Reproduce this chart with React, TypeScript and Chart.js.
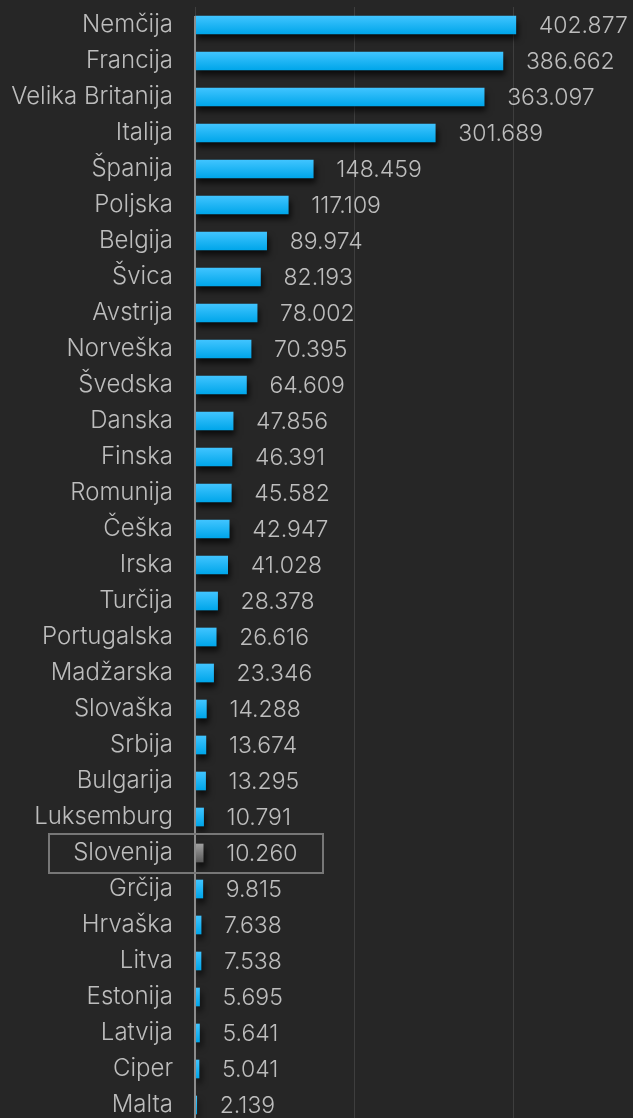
import React, { useEffect, useRef } from "react";
import { Chart, registerables } from "chart.js";

Chart.register(...registerables);

const countries = [
  "Nemčija", "Francija", "Velika Britanija", "Italija", "Španija", "Poljska",
  "Belgija", "Švica", "Avstrija", "Norveška", "Švedska", "Danska", "Finska",
  "Romunija", "Češka", "Irska", "Turčija", "Portugalska", "Madžarska",
  "Slovaška", "Srbija", "Bulgarija", "Luksemburg", "Slovenija", "Grčija",
  "Hrvaška", "Litva", "Estonija", "Latvija", "Ciper", "Malta",
];

const values = [
  402877, 386662, 363097, 301689, 148459, 117109, 89974, 82193, 78002, 70395,
  64609, 47856, 46391, 45582, 42947, 41028, 28378, 26616, 23346, 14288, 13674,
  13295, 10791, 10260, 9815, 7638, 7538, 5695, 5641, 5041, 2139,
];

const gridValues = [0, 200000, 400000];

const highlight = "Slovenija";
const xMax = 550000;

const FONT = "Inter, 'Noto Sans', sans-serif";
const TEXT = "#bdbdbd";

function fmt(v: number): string {
  const th = Math.floor(v / 1000);
  const rest = String(v % 1000).padStart(3, "0");
  return th > 0 ? `${th}.${rest}` : String(v);
}

export default function App() {
  const ref = useRef<HTMLCanvasElement>(null);

  useEffect(() => {
    if (!ref.current) return;

    const shadowPlugin = {
      id: "shadow",
      beforeDatasetsDraw(chart: any) {
        const c = chart.ctx;
        c.save();
        c.shadowColor = "rgba(0,0,0,0.7)";
        c.shadowBlur = 6;
        c.shadowOffsetX = 2;
        c.shadowOffsetY = 5;
      },
      afterDatasetsDraw(chart: any) {
        chart.ctx.restore();
      },
    };

    const labelPlugin = {
      id: "valueLabels",
      afterDraw(chart: any) {
        const c = chart.ctx;
        const meta = chart.getDatasetMeta(0);
        const area = chart.chartArea;
        c.save();
        // zero axis line
        c.strokeStyle = "#8c8c8c";
        c.lineWidth = 2;
        c.beginPath();
        c.moveTo(area.left, area.top + 9);
        c.lineTo(area.left, area.bottom);
        c.stroke();

        c.font = `300 23px ${FONT}`;
        c.fillStyle = TEXT;
        c.textAlign = "left";
        c.textBaseline = "middle";
        meta.data.forEach((bar: any, i: number) => {
          c.fillText(fmt(values[i]), bar.x + 23, bar.y + 1);
        });

        const hi = countries.indexOf(highlight);
        if (hi >= 0) {
          const y = chart.scales.y.getPixelForValue(hi);
          c.strokeStyle = "#777";
          c.lineWidth = 2;
          c.strokeRect(area.left - 146, y - 19, 274, 39);
        }
        c.restore();
      },
    };

    const chart = new Chart(ref.current, {
      type: "bar",
      data: {
        labels: countries,
        datasets: [
          {
            data: values,
            barThickness: 18,
            borderWidth: 0,
            backgroundColor: (ctx: any) => {
              const ch = ctx.chart;
              const ys = ch.scales && ch.scales.y;
              const isHi = countries[ctx.dataIndex] === highlight;
              if (!ys || !ch.chartArea) return isHi ? "#777" : "#14b4f4";
              const yc = ys.getPixelForValue(ctx.dataIndex);
              const g = ch.ctx.createLinearGradient(0, yc - 9, 0, yc + 9);
              if (isHi) {
                g.addColorStop(0, "#a0a0a0");
                g.addColorStop(1, "#5a5a5a");
              } else {
                g.addColorStop(0, "#40c4ff");
                g.addColorStop(1, "#00a6ea");
              }
              return g;
            },
          },
        ],
      },
      options: {
        indexAxis: "y",
        animation: false,
        responsive: false,
        maintainAspectRatio: false,
        layout: { autoPadding: false, padding: { top: 7, right: 0, bottom: 0, left: 0 } },
        plugins: {
          legend: { display: false },
          title: { display: false },
          tooltip: { enabled: false },
        },
        scales: {
          x: {
            min: 0,
            max: xMax,
            ticks: { display: false },
            grid: { color: "#3e3e3e", lineWidth: 1, drawTicks: false },
            border: { display: false },
            afterBuildTicks: (s: any) => {
              s.ticks = gridValues.map((v) => ({ value: v }));
            },
            afterFit: (s: any) => {
              s.height = 0;
              s.paddingLeft = 0;
              s.paddingRight = 0;
            },
          },
          y: {
            ticks: {
              color: TEXT,
              font: { family: FONT, size: 24, weight: "300" },
              padding: 22,
            },
            grid: { display: false, drawTicks: false },
            border: { display: false },
            afterFit: (s: any) => {
              s.width = 195;
              s.paddingTop = 0;
              s.paddingBottom = 0;
            },
          },
        },
      },
      plugins: [shadowPlugin, labelPlugin],
    });

    return () => chart.destroy();
  }, []);

  return (
    <div
      style={{
        position: "absolute",
        left: 0,
        top: 0,
        width: 633,
        height: 1123,
        background: "#262626",
        overflow: "hidden",
      }}
    >
      <canvas ref={ref} width={633} height={1123} style={{ display: "block" }} />
    </div>
  );
}
